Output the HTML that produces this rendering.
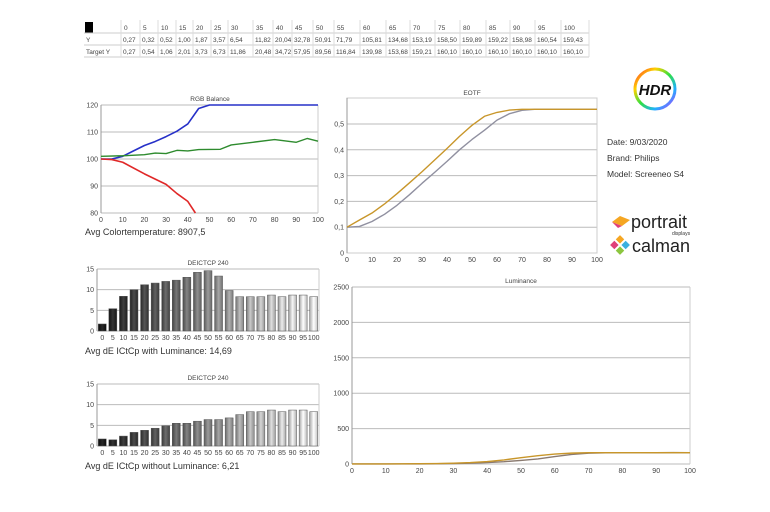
<!DOCTYPE html>
<html><head><meta charset="utf-8"><style>
html,body{margin:0;padding:0;background:#fff}
svg{display:block;font-family:"Liberation Sans",sans-serif}
</style></head><body>
<svg id="s" width="770" height="512" viewBox="0 0 770 512" xmlns="http://www.w3.org/2000/svg">
<defs>
<linearGradient id="hg" x1="0" y1="0" x2="1" y2="1">
<stop offset="0" stop-color="#ff3030"/><stop offset="0.25" stop-color="#ffd000"/><stop offset="0.5" stop-color="#30e040"/><stop offset="0.75" stop-color="#20b0ff"/><stop offset="1" stop-color="#c030ff"/></linearGradient>
</defs>
<g id="g"></g>
<circle cx="655" cy="89" r="20" fill="none" stroke="url(#hg)" stroke-width="3"/>
<text x="655" y="95" text-anchor="middle" font-size="15" font-weight="bold" font-style="italic" fill="#111">HDR</text>
<text x="607" y="145" font-size="8.5" fill="#333">Date: 9/03/2020</text>
<text x="607" y="161" font-size="8.5" fill="#333">Brand: Philips</text>
<text x="607" y="177" font-size="8.5" fill="#333">Model: Screeneo S4</text>
<polygon points="612,222 620,216 630,220 622,226" fill="#f5a623"/><polygon points="612,222 622,226 618,228" fill="#e0407a"/>
<text x="631" y="228" font-size="18" fill="#222">portrait</text>
<text x="672" y="235" font-size="5" fill="#333">displays</text>
<g transform="translate(620,245) rotate(45)"><rect x="-7" y="-7" width="6" height="6" fill="#f5a623"/><rect x="1" y="-7" width="6" height="6" fill="#3ab0e0"/><rect x="-7" y="1" width="6" height="6" fill="#e0407a"/><rect x="1" y="1" width="6" height="6" fill="#8cc63f"/></g>
<text x="632" y="252" font-size="18" fill="#222">calman</text>
</svg>
<script>
const g=document.getElementById('g');let h='';
function T(x,y,t,s,a,c){h+=`<text x="${x}" y="${y}" font-size="${s}" text-anchor="${a||'start'}" fill="${c||'#444'}">${t}</text>`;}
function L(x1,y1,x2,y2,c,w){h+=`<line x1="${x1}" y1="${y1}" x2="${x2}" y2="${y2}" stroke="${c}" stroke-width="${w||1}"/>`;}
function P(pts,c,w){h+=`<polyline points="${pts.map(p=>p.join(',')).join(' ')}" fill="none" stroke="${c}" stroke-width="${w}" stroke-linejoin="round"/>`;}
const cols=[121,140,158,176,193,211,228,253,273,292,313,334,360,386,410,435,460,486,510,535,561,589];
const hd=[0,5,10,15,20,25,30,35,40,45,50,55,60,65,70,75,80,85,90,95,100];
const Y=["0,27","0,32","0,52","1,00","1,87","3,57","6,54","11,82","20,04","32,78","50,91","71,79","105,81","134,68","153,19","158,50","159,89","159,22","158,98","160,54","159,43"];
const TY=["0,27","0,54","1,06","2,01","3,73","6,73","11,86","20,48","34,72","57,95","89,56","116,84","139,98","153,68","159,21","160,10","160,10","160,10","160,10","160,10","160,10"];
h+=`<rect x="85" y="22" width="8" height="11" fill="#000"/>`;
L(84,33,589,33,'#ccc');L(84,45,589,45,'#ccc');L(84,57,589,57,'#ccc');
cols.forEach(x=>L(x,20,x,57,'#ddd'));
hd.forEach((v,i)=>{T(cols[i]+3,30,v,6.5);T(cols[i]+2,42,Y[i],6.5);T(cols[i]+2,54,TY[i],6.5);});
T(86,42,'Y',6.5);T(86,54,'Target Y',6.5);
{const x0=101,x1=318,yt=105,yb=213;const X=v=>x0+v*(x1-x0)/100,YY=v=>yb-(v-80)*(yb-yt)/40;
[80,90,100,110,120].forEach(v=>{L(x0,YY(v),x1,YY(v),'#bbb');T(x0-3,YY(v)+2.5,v,7,'end');});
L(x0,yt,x0,yb,'#999');L(x1,yt,x1,yb,'#ccc');
for(let v=0;v<=100;v+=10)T(X(v),222,v,7,'middle');
T(210,101,'RGB Balance',6.5,'middle');
P([[0,100],[5,100],[10,101],[15,103],[20,105],[25,106.5],[30,108.3],[35,110.3],[40,113],[45,118.7],[50,120],[100,120]].map(p=>[X(p[0]),YY(p[1])]),'#2630c8',1.6);
P([[0,101],[10,101.2],[20,101.6],[25,102.2],[30,102],[35,103.2],[40,103],[45,103.5],[55,103.6],[60,105.2],[70,106.2],[80,107.2],[90,106.2],[95,107.6],[100,106.6]].map(p=>[X(p[0]),YY(p[1])]),'#2e8b2e',1.4);
P([[0,100],[5,99.8],[10,98.8],[20,94.5],[30,90.6],[35,87.2],[40,84.3],[43.5,80]].map(p=>[X(p[0]),YY(p[1])]),'#e02828',1.6);
T(85,235,'Avg Colortemperature: 8907,5',9,'start','#333');}
function bars(yt,yb,vals,title,txt,ty){const x0=97,x1=319;const sc=(yb-yt)/15;
[0,5,10,15].forEach(v=>{L(x0,yb-v*sc,x1,yb-v*sc,'#bbb');T(x0-3,yb-v*sc+2.5,v,7,'end');});
L(x0,yt,x0,yb,'#999');L(x1,yt,x1,yb,'#ccc');T(208,yt-4,title,6.5,'middle');
const w=(x1-x0)/21;vals.forEach((v,i)=>{const c=Math.round(15+i*11.5);const gid='b'+ty+i;
h+=`<linearGradient id="${gid}"><stop offset="0" stop-color="rgb(${c*0.7|0},${c*0.7|0},${c*0.7|0})"/><stop offset="0.5" stop-color="rgb(${Math.min(255,c+25)},${Math.min(255,c+25)},${Math.min(255,c+25)})"/><stop offset="1" stop-color="rgb(${c*0.8|0},${c*0.8|0},${c*0.8|0})"/></linearGradient>`;
const bx=x0+i*w+1.3,bh=v*sc;h+=`<rect x="${bx}" y="${yb-bh}" width="${w-2.6}" height="${bh}" fill="url(#${gid})" stroke="#555" stroke-width="0.5"/>`;
T(x0+i*w+w/2,yb+9,hd[i],7,'middle');});
T(85,yb+23,txt,9,'start','#333');}
bars(269,331,[1.7,5.4,8.4,10,11.2,11.6,12,12.3,13,14.2,14.6,13.3,9.8,8.3,8.3,8.3,8.7,8.3,8.7,8.7,8.3],'DEICTCP 240','Avg dE ICtCp with Luminance: 14,69',1);
bars(384,446,[1.7,1.5,2.4,3.3,3.8,4.3,4.9,5.5,5.5,6,6.4,6.4,6.8,7.6,8.3,8.3,8.7,8.3,8.7,8.7,8.3],'DEICTCP 240','Avg dE ICtCp without Luminance: 6,21',2);
{const x0=347,x1=597,yt=98,yb=253;const X=v=>x0+v*(x1-x0)/100,YY=v=>yb-v*258;
[0,0.1,0.2,0.3,0.4,0.5].forEach(v=>{L(x0,YY(v),x1,YY(v),'#bbb');T(x0-3,YY(v)+2.5,(v===0?'0':v.toFixed(1).replace('.',',')),7,'end');});
h+=`<rect x="${x0}" y="${yt}" width="${x1-x0}" height="${yb-yt}" fill="none" stroke="#ccc"/>`;L(x0,yt,x0,yb,'#999');
for(let v=0;v<=100;v+=10)T(X(v),262,v,7,'middle');T(472,95,'EOTF',6.5,'middle');
P([[0,.1],[5,.103],[10,.122],[15,.15],[20,.185],[25,.226],[30,.27],[35,.312],[40,.355],[45,.4],[50,.44],[55,.476],[60,.515],[65,.54],[70,.553],[75,.557],[100,.557]].map(p=>[X(p[0]),YY(p[1])]),'#9090a0',1.4);
P([[0,.1],[5,.128],[10,.155],[15,.19],[20,.23],[25,.272],[30,.315],[35,.36],[40,.405],[45,.452],[50,.495],[55,.53],[60,.545],[65,.554],[70,.557],[100,.557]].map(p=>[X(p[0]),YY(p[1])]),'#c8962a',1.4);}
{const x0=352,x1=690,yt=287,yb=464;const X=v=>x0+v*(x1-x0)/100,YY=v=>yb-v*(yb-yt)/2500;
[0,500,1000,1500,2000,2500].forEach(v=>{L(x0,YY(v),x1,YY(v),'#bbb');T(x0-3,YY(v)+2.5,v,7,'end');});
L(x0,yt,x0,yb,'#999');L(x1,yt,x1,yb,'#ccc');
for(let v=0;v<=100;v+=10)T(X(v),473,v,7,'middle');T(521,283,'Luminance',6.5,'middle');
const n=s=>parseFloat(s.replace(',','.'));
P(Y.map((s,i)=>[X(i*5),YY(n(s))]),'#8a7a70',1.4);
P(TY.map((s,i)=>[X(i*5),YY(n(s))]),'#c8962a',1.4);}
g.innerHTML=h;
</script>
</body></html>
